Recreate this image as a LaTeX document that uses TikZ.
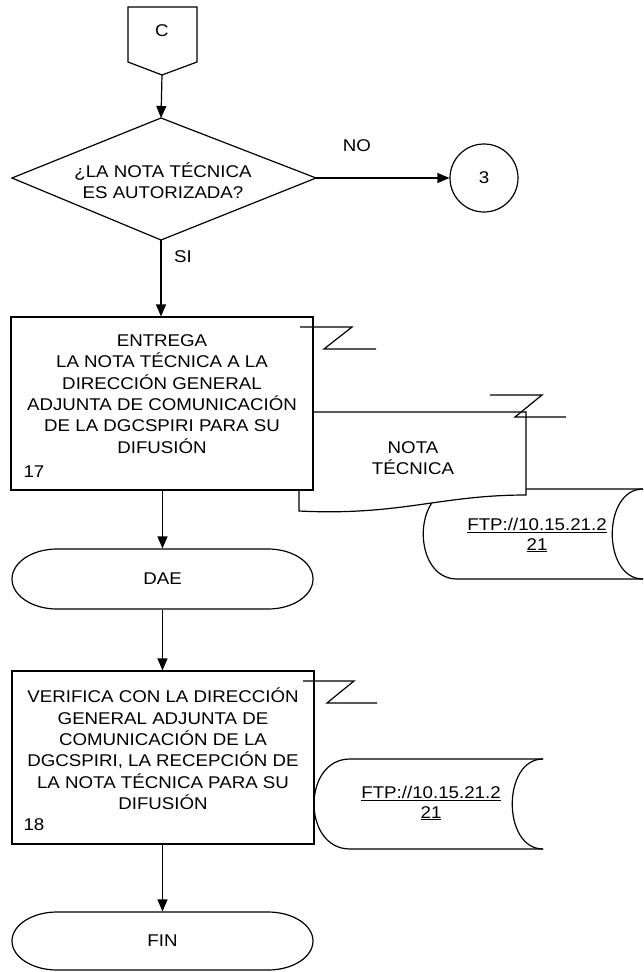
\documentclass[tikz,border=0pt]{standalone}
\usepackage{fontspec}
\setmainfont[FakeStretch=1.1]{Liberation Sans}
\usetikzlibrary{arrows.meta,shapes.geometric}
\begin{document}
\begin{tikzpicture}[x=1pt,y=-1pt,line width=1.2pt,
  every node/.style={font=\fontsize{17}{21.4}\selectfont,align=center,inner sep=0pt},
  arr/.style={-{Triangle[length=12pt,width=10pt]}},
  procbox/.style={draw,fill=white,minimum width=302pt,minimum height=173pt},
  termbox/.style={minimum width=301pt,minimum height=60pt},
  ftptext/.style={font=\fontsize{17}{20}\selectfont}]
\useasboundingbox (0,0) rectangle (643,972);

% off-page connector C
\draw (128,7) -- (197,7) -- (197,62) -- (162,75) -- (128,62) -- cycle;
\node (C) at (162,31) {C};
\coordinate (Cb) at (162,75);

% decision
\coordinate (dT) at (161,118);
\coordinate (dR) at (316,178);
\coordinate (dB) at (161,240);
\coordinate (dL) at (12,178);
\draw (dT) -- (dR) -- (dB) -- (dL) -- cycle;
\node (q) at (163,181) {¿LA NOTA TÉCNICA\\ES AUTORIZADA?};
\draw[arr] (Cb) -- (dT);

% connector 3
\node[draw,circle,minimum size=68pt] (c3) at (484,178) {3};
\draw[arr] (dR) -- (c3);
\node (no) at (357,146) {NO};
\node (si) at (183,257) {SI};

% storage 1 (behind document)
\draw (643,489) -- (457,489) .. controls (412,489) and (412,579) .. (457,579) -- (643,579);
\draw (643,489) .. controls (602,489) and (602,579) .. (643,579);
\node[ftptext] (ftp1) at (537,535) {\underline{FTP://10.15.21.2}\\\underline{21}};

% document NOTA TECNICA
\draw[fill=white] (299,412) -- (526,412) -- (526,495) .. controls (440,495) and (400,516) .. (299,511) -- cycle;
\node (doc) at (413,458) {NOTA\\TÉCNICA};
\draw (490,395) -- (542,395) -- (515,417) -- (566,417);

% process 17
\node[procbox] (b17) at (162,403.5) {};
\node (t17) at (162,394) {ENTREGA\\LA NOTA TÉCNICA A LA\\DIRECCIÓN GENERAL\\ADJUNTA DE COMUNICACIÓN\\DE LA DGCSPIRI PARA SU\\DIFUSIÓN};
\node (n17) at (34,472) {17};
\draw (300,327) -- (352,327) -- (324,349) -- (376,349);
\draw[arr] (dB) -- (dB |- b17.north);

% DAE terminal
\node[termbox] (dae) at (162.5,579) {DAE};
\draw (57,549) -- (268,549) arc[start angle=90,end angle=-90,x radius=45pt,y radius=30pt]
  -- (57,609) arc[start angle=270,end angle=90,x radius=45pt,y radius=30pt] -- cycle;
\draw[arr] (b17.south -| dae.north) -- (dae.north);

% process 18
\node[procbox] (b18) at (163,757.5) {};
\node (t18) at (163,749) {VERIFICA CON LA DIRECCIÓN\\GENERAL ADJUNTA DE\\COMUNICACIÓN DE LA\\DGCSPIRI, LA RECEPCIÓN DE\\LA NOTA TÉCNICA PARA SU\\DIFUSIÓN};
\node (n18) at (34,825) {18};
\draw (303,681) -- (354,681) -- (327,703) -- (377,703);
\draw[arr] (dae.south) -- (dae.south |- b18.north);

% storage 2
\draw (543,759) -- (350,759) .. controls (302,759) and (302,849) .. (350,849) -- (543,849);
\draw (543,759) .. controls (502,759) and (502,849) .. (543,849);
\node[ftptext] (ftp2) at (431,803) {\underline{FTP://10.15.21.2}\\\underline{21}};

% FIN terminal
\node[termbox,minimum height=58pt] (fin) at (162.5,941) {FIN};
\draw (57,912) -- (268,912) arc[start angle=90,end angle=-90,x radius=45pt,y radius=29pt]
  -- (57,970) arc[start angle=270,end angle=90,x radius=45pt,y radius=29pt] -- cycle;
\draw[arr] (b18.south -| fin.north) -- (fin.north);
\end{tikzpicture}
\end{document}
